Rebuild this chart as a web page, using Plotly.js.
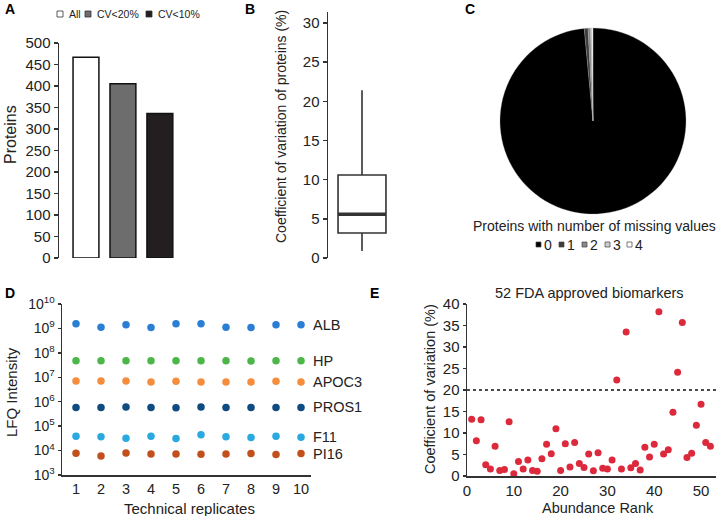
<!DOCTYPE html>
<html>
<head>
<meta charset="utf-8">
<script src="https://cdn.plot.ly/plotly-3.0.1.min.js"></script>
<style>html,body{margin:0;padding:0;background:#fff;}#chart{width:720px;height:516px;}</style>
</head>
<body>
<div id="chart"></div>
<script>
// ---- Panel A data ----
const barCategories = ['All', 'CV<20%', 'CV<10%'];
const barValues = [467, 405, 336];
// ---- Panel B data (box statistics, CV %) ----
const boxLowerWhisker = 0.9;
const boxQ1 = 3.2;
const boxMedian = 5.6;
const boxQ3 = 10.6;
const boxUpperWhisker = 21.4;
// ---- Panel C data ----
const missingCategories = ['0', '1', '2', '3', '4'];
const missingCounts = [460, 3, 2, 1, 1];
// ---- Panel D data ----
const replicates = [1, 2, 3, 4, 5, 6, 7, 8, 9, 10];
const proteinNames = ['ALB', 'HP', 'APOC3', 'PROS1', 'F11', 'PI16'];
const albIntensity = [1.55e9, 1.13e9, 1.41e9, 1.10e9, 1.55e9, 1.55e9, 1.13e9, 1.10e9, 1.41e9, 1.41e9];
const hpIntensity = [4.8e7, 4.8e7, 4.8e7, 4.8e7, 4.8e7, 4.8e7, 4.8e7, 4.6e7, 4.8e7, 4.8e7];
const apoc3Intensity = [7.08e6, 7.08e6, 7.08e6, 6.44e6, 6.86e6, 6.44e6, 6.44e6, 6.44e6, 6.86e6, 6.44e6];
const pros1Intensity = [5.86e5, 5.86e5, 6.05e5, 5.86e5, 5.68e5, 6.05e5, 5.86e5, 5.86e5, 5.86e5, 5.86e5];
const f11Intensity = [3.90e4, 3.66e4, 3.23e4, 3.90e4, 3.13e4, 4.42e4, 3.66e4, 3.44e4, 3.90e4, 3.55e4];
const pi16Intensity = [7.78e3, 6.05e3, 8.03e3, 7.31e3, 7.31e3, 7.08e3, 7.31e3, 7.54e3, 6.86e3, 7.54e3];
const intensityTickVals = [1e3, 1e4, 1e5, 1e6, 1e7, 1e8, 1e9, 1e10];
const intensityTickText = ['10<sup>3</sup>', '10<sup>4</sup>', '10<sup>5</sup>', '10<sup>6</sup>', '10<sup>7</sup>', '10<sup>8</sup>', '10<sup>9</sup>', '10<sup>10</sup>'];
// ---- Panel E data ----
const abundanceRank = [];
for (let i = 1; i <= 52; i++) abundanceRank.push(i);
const biomarkerCV = [13.2, 8.2, 13.1, 2.6, 1.6, 6.9, 1.25, 1.5, 12.6, 0.5,
  3.4, 1.6, 3.7, 1.3, 1.1, 4.0, 7.4, 5.2, 11.0, 1.3,
  7.5, 2.1, 7.8, 2.9, 2.0, 5.1, 1.2, 5.4, 1.8, 1.6,
  3.7, 22.3, 1.6, 33.5, 1.9, 2.9, 1.4, 6.7, 4.4, 7.4,
  38.2, 5.1, 6.1, 14.8, 24.1, 35.7, 4.3, 5.3, 11.8, 16.7,
  7.8, 6.9];
const cvThreshold = 20;

// ---- helpers ----
const W = 720, H = 516;
const fx = p => p / W;
const fy = p => 1 - p / H;
const FONT = 'Liberation Sans, Arial, sans-serif';
const AX = '#333333';
const TXT = '#222222';

const dColors = ['#2a7fd4', '#4cb648', '#f58d3c', '#0f4a80', '#2aa9e0', '#c2501c'];
const dSeries = [albIntensity, hpIntensity, apoc3Intensity, pros1Intensity, f11Intensity, pi16Intensity];

const traces = [];
// A bars
traces.push({
  type: 'bar', x: barCategories, y: barValues, xaxis: 'x', yaxis: 'y',
  width: 0.70,
  marker: {color: ['#ffffff', '#6d6d6d', '#231f20'], line: {color: '#111', width: 1.5}},
  hoverinfo: 'none'
});
// B box
traces.push({
  type: 'box', x: [0], q1: [boxQ1], median: [boxMedian], q3: [boxQ3],
  lowerfence: [boxLowerWhisker], upperfence: [boxUpperWhisker],
  xaxis: 'x2', yaxis: 'y2', width: 1.41, whiskerwidth: 0,
  fillcolor: '#ffffff', line: {color: AX, width: 1.6}, boxpoints: false, hoverinfo: 'none'
});
// C pie
traces.push({
  type: 'pie', labels: missingCategories, values: missingCounts, sort: false,
  direction: 'clockwise', rotation: 0, textinfo: 'none', hoverinfo: 'none',
  marker: {colors: ['#000000', '#3c3c3c', '#8a8a8a', '#cdcdcd', '#ffffff'], line: {color: '#aaaaaa', width: 0.3}},
  domain: {x: [fx(500), fx(686)], y: [fy(214), fy(28)]}
});
// D scatter
dSeries.forEach((s, i) => {
  traces.push({
    type: 'scatter', mode: 'markers', x: replicates, y: s, xaxis: 'x3', yaxis: 'y3',
    marker: {color: dColors[i], size: 7.5}, cliponaxis: false, hoverinfo: 'none', name: proteinNames[i]
  });
});
// E scatter
traces.push({
  type: 'scatter', mode: 'markers', x: abundanceRank, y: biomarkerCV, xaxis: 'x4', yaxis: 'y4',
  marker: {color: '#dc2a3c', size: 7}, cliponaxis: false, hoverinfo: 'none'
});

const axBase = {
  showgrid: false, zeroline: false, showline: true, linecolor: AX, linewidth: 1.5,
  ticks: 'outside', ticklen: 4, tickwidth: 1.5, tickcolor: AX,
  tickfont: {family: FONT, size: 15, color: TXT}, fixedrange: true
};

const annotations = [];
function ann(text, x, y, opts) {
  annotations.push(Object.assign({
    text: text, x: fx(x), y: fy(y), xref: 'paper', yref: 'paper', showarrow: false,
    xanchor: 'center', yanchor: 'middle', font: {family: FONT, size: 15, color: TXT}
  }, opts || {}));
}
// Panel letters
ann('<b>A</b>', 3, 9, {xanchor: 'left', font: {family: FONT, size: 14, color: '#000'}});
ann('<b>B</b>', 243, 9, {xanchor: 'left', font: {family: FONT, size: 14, color: '#000'}});
ann('<b>C</b>', 463, 9, {xanchor: 'left', font: {family: FONT, size: 14, color: '#000'}});
ann('<b>D</b>', 3, 293, {xanchor: 'left', font: {family: FONT, size: 14, color: '#000'}});
ann('<b>E</b>', 368, 293, {xanchor: 'left', font: {family: FONT, size: 14, color: '#000'}});
// Axis titles
ann('Proteins', 10, 135, {textangle: -90, font: {family: FONT, size: 16, color: TXT}});
ann('Coefficient of variation of proteins (%)', 281, 127, {textangle: -90, font: {family: FONT, size: 14, color: TXT}});
ann('LFQ Intensity', 11, 392, {textangle: -90, font: {family: FONT, size: 15, color: TXT}});
ann('Technical replicates', 189, 508, {font: {family: FONT, size: 15, color: TXT}});
ann('Coefficient of variation (%)', 430, 389, {textangle: -90, font: {family: FONT, size: 14.5, color: TXT}});
ann('Abundance Rank', 598, 508, {font: {family: FONT, size: 14.5, color: TXT}});
ann('52 FDA approved biomarkers', 589, 293, {font: {family: FONT, size: 14.5, color: TXT}});
ann('Proteins with number of missing values', 594, 226, {font: {family: FONT, size: 14, color: TXT}});

// D right labels
dSeries.forEach((s, i) => {
  annotations.push({
    text: proteinNames[i], xref: 'x3', yref: 'y3', x: replicates[replicates.length - 1],
    y: Math.log10(s[s.length - 1]), xanchor: 'left', yanchor: 'middle', xshift: 10,
    showarrow: false, font: {family: FONT, size: 14.5, color: TXT}
  });
});

const shapes = [];
// A legend
const aLegendFill = ['#ffffff', '#6d6d6d', '#231f20'];
const aLegendX = [57, 85, 146];
barCategories.forEach((c, i) => {
  shapes.push({type: 'rect', xref: 'paper', yref: 'paper', x0: fx(aLegendX[i]), x1: fx(aLegendX[i] + 6),
    y0: fy(17), y1: fy(11), fillcolor: aLegendFill[i], line: {color: '#333', width: 0.8}});
  ann(c, aLegendX[i] + 10, 14, {xanchor: 'left', font: {family: FONT, size: 10.5, color: TXT}});
});
// C legend
const cLegendFill = ['#000000', '#3c3c3c', '#8a8a8a', '#cdcdcd', '#ffffff'];
const cLegendX = [536, 559, 582, 605, 627];
missingCategories.forEach((c, i) => {
  shapes.push({type: 'rect', xref: 'paper', yref: 'paper', x0: fx(cLegendX[i]), x1: fx(cLegendX[i] + 5),
    y0: fy(247), y1: fy(242), fillcolor: cLegendFill[i], line: {color: '#444', width: 0.7}});
  ann(c, cLegendX[i] + 6, 245, {xanchor: 'left', font: {family: FONT, size: 14, color: TXT}});
});
// B median (thick)
shapes.push({type: 'line', xref: 'x2', yref: 'y2', x0: -0.705, x1: 0.705, y0: boxMedian, y1: boxMedian,
  line: {color: AX, width: 3.5}});
// E threshold
shapes.push({type: 'line', xref: 'x4 domain', yref: 'y4', x0: 0, x1: 1, y0: cvThreshold, y1: cvThreshold,
  line: {color: '#111', width: 1.5, dash: 'dot'}});

const layout = {
  width: W, height: H, margin: {l: 0, r: 0, t: 0, b: 0}, showlegend: false,
  paper_bgcolor: '#ffffff', plot_bgcolor: 'rgba(0,0,0,0)',
  font: {family: FONT, color: TXT},
  xaxis: {domain: [fx(59), fx(185)], range: [-0.73, 2.68], anchor: 'y', visible: false, fixedrange: true},
  yaxis: Object.assign({}, axBase, {domain: [fy(258), fy(43)], range: [0, 500], dtick: 50, anchor: 'x'}),
  xaxis2: {domain: [fx(328), fx(396)], range: [-1, 1], anchor: 'y2', visible: false, fixedrange: true},
  yaxis2: Object.assign({}, axBase, {domain: [fy(258), fy(12)], range: [0, 31.4], dtick: 5, anchor: 'x2'}),
  xaxis3: Object.assign({}, axBase, {domain: [fx(62), fx(311)], range: [0.44, 10.4], tickvals: replicates, ticks: '', anchor: 'y3', tickfont: {family: FONT, size: 14.5, color: TXT}}),
  yaxis3: Object.assign({}, axBase, {type: 'log', domain: [fy(475), fy(304)], range: [3, 10], tickvals: intensityTickVals, ticktext: intensityTickText, anchor: 'x3', ticklen: 3, tickfont: {family: FONT, size: 14, color: TXT}}),
  xaxis4: Object.assign({}, axBase, {domain: [fx(467), fx(716)], range: [0, 53.2], dtick: 10, anchor: 'y4', ticks: ''}),
  yaxis4: Object.assign({}, axBase, {domain: [fy(476), fy(304)], range: [0, 40], dtick: 5, anchor: 'x4', ticklen: 3}),
  annotations: annotations, shapes: shapes
};

Plotly.newPlot('chart', traces, layout, {staticPlot: true, displayModeBar: false});
</script>
</body>
</html>
